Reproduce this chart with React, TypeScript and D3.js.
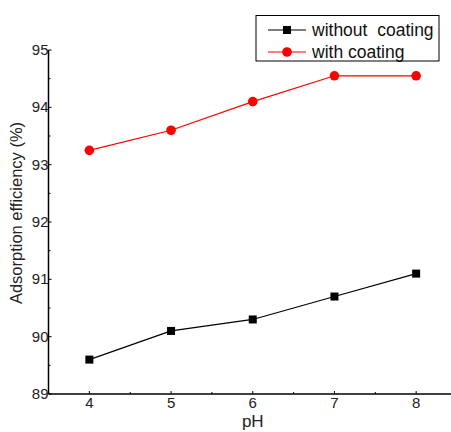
import React from 'react';
import * as d3 from 'd3';

const phValues = [4, 5, 6, 7, 8];
const withoutCoating = [89.6, 90.1, 90.3, 90.7, 91.1];
const withCoating = [93.25, 93.6, 94.1, 94.55, 94.55];
const yTicks = [89, 90, 91, 92, 93, 94, 95];
const seriesNames = ['without  coating', 'with coating'];

const W = 451;
const H = 432;

const App = () => {
  const x = d3.scaleLinear().domain([3.5, 8.5]).range([48.5, 457]);
  const y = d3.scaleLinear().domain([89, 95]).range([394, 50]);

  const line = d3
    .line<number>()
    .x((d, i) => x(phValues[i]))
    .y((d) => y(d));

  const xMinor = d3.range(3.5, 8.51, 0.5);
  const yMinor = d3.range(89, 95.01, 0.5);
  const font = 'Arial, "Liberation Sans", sans-serif';

  return (
    <svg
      width={W}
      height={H}
      style={{ position: 'absolute', left: 0, top: 0, background: '#fff' }}
      fontFamily={font}
    >
      {/* axes */}
      <line x1={x(3.5)} x2={x(3.5)} y1={y(95)} y2={y(89)} stroke="#000" strokeWidth={1.5} />
      <line x1={x(3.5)} x2={W} y1={y(89)} y2={y(89)} stroke="#000" strokeWidth={1.5} />
      {yMinor.map((v) => (
        <line key={'ym' + v} x1={x(3.5)} x2={x(3.5) + (Number.isInteger(v) ? 3 : 2)} y1={y(v)} y2={y(v)} stroke="#000" />
      ))}
      {xMinor.map((v) => (
        <line key={'xm' + v} x1={x(v)} x2={x(v)} y1={y(89)} y2={y(89) - (Number.isInteger(v) ? 3 : 2)} stroke="#000" />
      ))}
      {yTicks.map((v) => (
        <text key={'yt' + v} x={x(3.5)} y={y(v) + 5} textAnchor="end" fontSize={15} fill="#222">
          {v}
        </text>
      ))}
      {phValues.map((v) => (
        <text key={'xt' + v} x={x(v)} y={y(89) + 14} textAnchor="middle" fontSize={15} fill="#222">
          {v}
        </text>
      ))}
      <text x={x(6)} y={427} textAnchor="middle" fontSize={17} fill="#222">
        pH
      </text>
      <text
        transform={`translate(22,213) rotate(-90)`}
        textAnchor="middle"
        fontSize={16.5}
        fill="#222"
      >
        Adsorption efficiency (%)
      </text>

      {/* series */}
      <path d={line(withoutCoating) || ''} fill="none" stroke="#000" strokeWidth={1.2} />
      {withoutCoating.map((v, i) => (
        <rect key={'s' + i} x={x(phValues[i]) - 4} y={y(v) - 4} width={8} height={8} fill="#000" />
      ))}
      <path d={line(withCoating) || ''} fill="none" stroke="#f00" strokeWidth={1.2} />
      {withCoating.map((v, i) => (
        <circle key={'c' + i} cx={x(phValues[i])} cy={y(v)} r={4.8} fill="#f00" />
      ))}

      {/* legend */}
      <rect x={256} y={15.5} width={183} height={45.5} fill="#fff" stroke="#000" strokeWidth={1} />
      <line x1={268} x2={306} y1={30} y2={30} stroke="#000" strokeWidth={1.2} />
      <rect x={283} y={26} width={8} height={8} fill="#000" />
      <text x={312} y={36} fontSize={17.5} fill="#111" style={{ whiteSpace: 'pre' }}>
        {seriesNames[0]}
      </text>
      <line x1={268} x2={306} y1={52} y2={52} stroke="#f00" strokeWidth={1.2} />
      <circle cx={287} cy={52} r={4.8} fill="#f00" />
      <text x={312} y={58} fontSize={17.5} fill="#111" style={{ whiteSpace: 'pre' }}>
        {seriesNames[1]}
      </text>
    </svg>
  );
};

export default App;
